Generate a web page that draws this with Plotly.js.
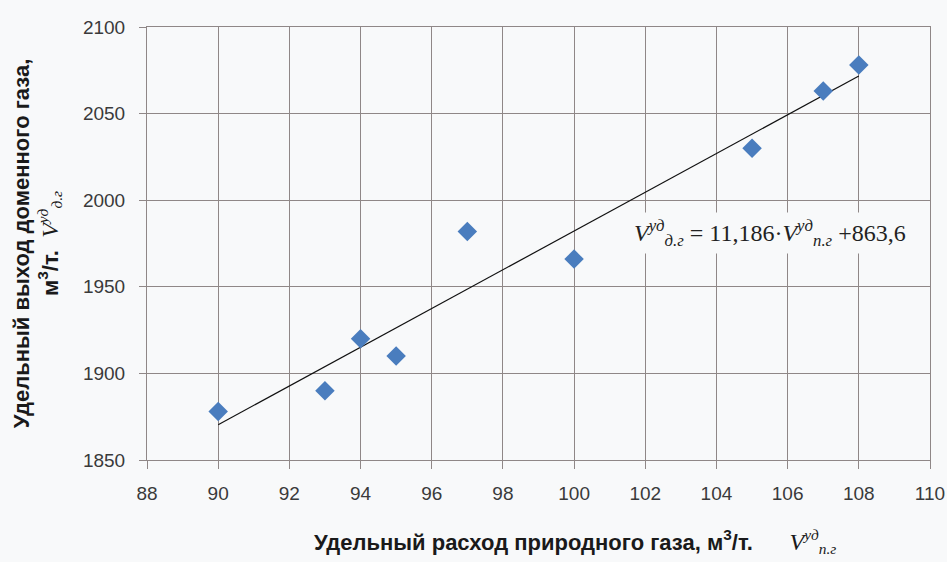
<!DOCTYPE html>
<html>
<head>
<meta charset="utf-8">
<script src="https://cdn.plot.ly/plotly-3.0.1.min.js"></script>
<style>html,body{margin:0;padding:0;background:#f8f9fa;}#chart{width:947px;height:562px;}</style>
</head>
<body>
<div id="chart"></div>
<script>
// Data
const gasConsumption = [90, 93, 94, 95, 97, 100, 105, 107, 108];
const blastGasYield = [1878, 1890, 1920, 1910, 1982, 1966, 2030, 2063, 2078];
const trendSlope = 11.186;
const trendIntercept = 863.6;
const trendX = [90, 108];
const trendY = trendX.map(x => trendSlope * x + trendIntercept);
const xTicks = [88, 90, 92, 94, 96, 98, 100, 102, 104, 106, 108, 110];
const yTicks = [1850, 1900, 1950, 2000, 2050, 2100];

const gridColor = '#8f8787';
const tickFont = {family: 'Liberation Sans, Arial, sans-serif', size: 19, color: '#3a3a3a'};
const mathStyle = "font-family:'Liberation Serif',serif;font-style:italic;font-weight:normal;";
const pad = '&nbsp;'.repeat(12);

const traces = [
  {
    x: trendX, y: trendY, type: 'scatter', mode: 'lines',
    line: {color: '#111111', width: 1.2}, hoverinfo: 'skip', showlegend: false
  },
  {
    x: gasConsumption, y: blastGasYield, type: 'scatter', mode: 'markers',
    marker: {symbol: 'diamond', size: 15, color: '#4a7dbe'}, showlegend: false
  }
];

const layout = {
  width: 947, height: 562,
  paper_bgcolor: '#f8f9fa', plot_bgcolor: '#f8f9fa',
  margin: {l: 147, r: 17, t: 27, b: 102},
  xaxis: {
    range: [88, 110], tickvals: xTicks, ticktext: xTicks.map(String),
    showgrid: true, gridcolor: gridColor, gridwidth: 1,
    zeroline: false, showline: true, linecolor: gridColor, mirror: true,
    ticks: 'outside', ticklen: 8, tickcolor: gridColor,
    tickfont: tickFont, ticklabelstandoff: 8,
    title: {
      text: pad + "<b>Удельный расход природного газа, м<sup>3</sup>/т.</b>      <span style=\"" + mathStyle + "font-size:24px\">V</span><sup><span style=\"" + mathStyle + "\">уд</span></sup><sub><span style=\"" + mathStyle + "\">п.г</span></sub>",
      font: {family: 'Liberation Sans, Arial, sans-serif', size: 22, color: '#1a1a1a'}, standoff: 31
    }
  },
  yaxis: {
    range: [1850, 2100], tickvals: yTicks, ticktext: yTicks.map(String),
    showgrid: true, gridcolor: gridColor, gridwidth: 1,
    zeroline: false, showline: true, linecolor: gridColor, mirror: true,
    ticks: 'outside', ticklen: 7, tickcolor: gridColor,
    tickfont: tickFont, ticklabelstandoff: 10,
    title: {
      text: "<b>Удельный выход доменного газа,</b><br><b>м<sup>3</sup>/т.</b>  <span style=\"" + mathStyle + "font-size:24px\">V</span><sup><span style=\"" + mathStyle + "\">уд</span></sup><sub><span style=\"" + mathStyle + "\">д.г</span></sub>",
      font: {family: 'Liberation Sans, Arial, sans-serif', size: 22, color: '#1a1a1a'}, standoff: 18
    }
  },
  annotations: [
    {
      x: 105.5, y: 1981, xref: 'x', yref: 'y', showarrow: false,
      text: "V<sup>уд</sup><sub>д.г</sub> <span style=\"font-style:normal\">= 11,186·</span>V<sup>уд</sup><sub>п.г</sub><span style=\"font-style:normal\"> +863,6</span>",
      font: {family: 'Liberation Serif, Times New Roman, serif', size: 24, color: '#222222', style: 'italic'},
      bgcolor: '#f8f9fa', borderpad: 3
    }
  ]
};

Plotly.newPlot('chart', traces, layout, {displayModeBar: false, staticPlot: true});
</script>
</body>
</html>
